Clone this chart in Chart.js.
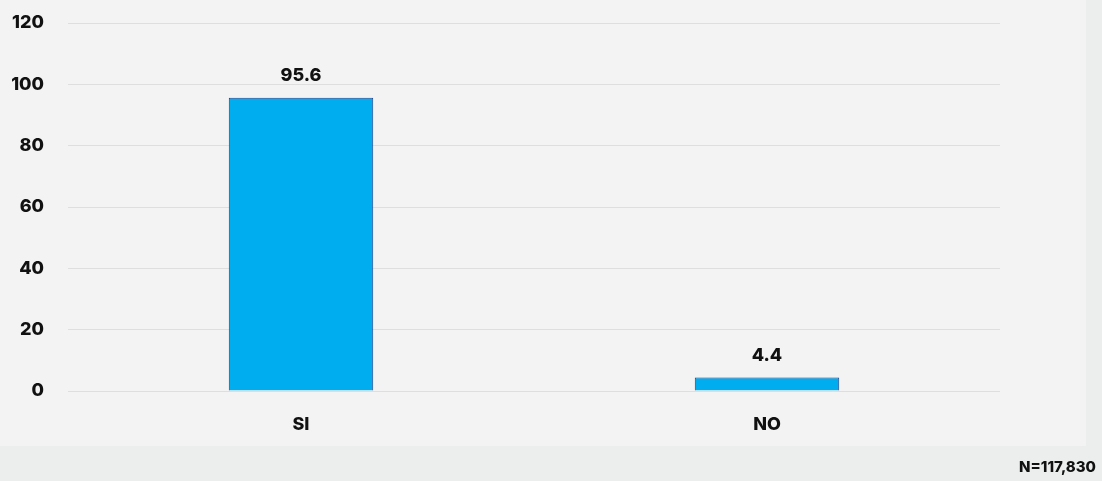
<!DOCTYPE html>
<html>
<head>
<meta charset="utf-8">
<script src="https://cdn.jsdelivr.net/npm/chart.js@4"></script>
<style>
  html, body { margin: 0; padding: 0; background: #eceeed; }
  #wrap { position: relative; width: 1102px; height: 481px; }
</style>
</head>
<body>
<div id="wrap"><canvas id="chart" width="1102" height="481"></canvas></div>
<script>
// data
const categories = ["SI", "NO"];
const values = [95.6, 4.4];
const yTicks = [0, 20, 40, 60, 80, 100, 120];
const sampleNote = "N=117,830";

const FONT = "Inter, 'DejaVu Sans', sans-serif";

// light panel behind the plot, darker strip at bottom and right
const panelBg = {
  id: "panelBg",
  beforeDraw(chart) {
    const ctx = chart.ctx;
    ctx.save();
    ctx.fillStyle = "#eceeed";
    ctx.fillRect(0, 0, chart.width, chart.height);
    ctx.fillStyle = "#f3f3f3";
    ctx.fillRect(0, 0, 1086, 446);
    ctx.restore();
  },
  afterDraw(chart) {
    const ctx = chart.ctx;
    ctx.save();
    ctx.fillStyle = "#111";
    ctx.font = "800 15px " + FONT;
    ctx.textAlign = "right";
    ctx.textBaseline = "middle";
    ctx.fillText(sampleNote, 1096, 467);
    ctx.restore();
  }
};

// value labels above each bar
const barLabels = {
  id: "barLabels",
  afterDatasetsDraw(chart) {
    const ctx = chart.ctx;
    const meta = chart.getDatasetMeta(0);
    ctx.save();
    ctx.fillStyle = "#111";
    ctx.font = "800 18px " + FONT;
    ctx.textAlign = "center";
    ctx.textBaseline = "bottom";
    meta.data.forEach((bar, i) => {
      ctx.fillText(values[i].toFixed(1), bar.x, bar.y - 13);
    });
    ctx.restore();
  }
};

new Chart(document.getElementById("chart"), {
  type: "bar",
  data: {
    labels: categories,
    datasets: [{
      data: values,
      backgroundColor: "#00aeef",
      borderColor: "#1f3f8a",
      borderWidth: 1,
      categoryPercentage: 1,
      barPercentage: 0.31
    }]
  },
  options: {
    responsive: false,
    animation: false,
    layout: { padding: { top: 23, right: 102, bottom: 36, left: 0 } },
    plugins: { legend: { display: false }, tooltip: { enabled: false } },
    scales: {
      x: {
        grid: { display: false },
        border: { display: false },
        ticks: { color: "#111", font: { family: FONT, size: 18, weight: "800" }, padding: 15 },
        afterFit(axis) { axis.height = 54; }
      },
      y: {
        min: 0,
        max: 120,
        afterBuildTicks(axis) { axis.ticks = yTicks.map(v => ({ value: v })); },
        grid: { color: "#dedede", lineWidth: 1, drawTicks: false },
        border: { display: false },
        ticks: { color: "#111", font: { family: FONT, size: 18, weight: "800" }, padding: 24 },
        afterFit(axis) { axis.width = 68; axis.paddingTop = 0; axis.paddingBottom = 0; }
      }
    }
  },
  plugins: [panelBg, barLabels]
});
</script>
</body>
</html>
